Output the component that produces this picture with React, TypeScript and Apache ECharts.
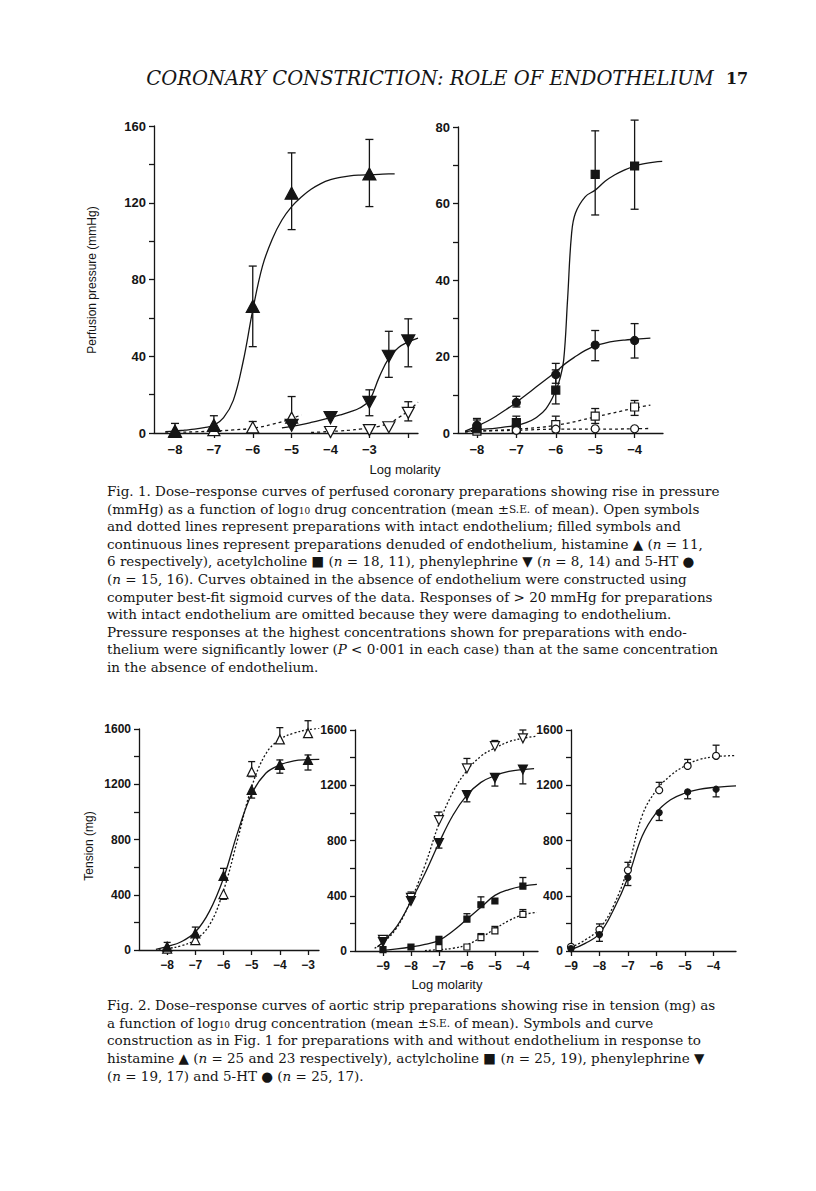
import React, { useEffect, useRef } from 'react';
import * as echarts from 'echarts';

// ---------- Fig. 1 left panel (histamine, phenylephrine; coronary pressure, mmHg)
const f1HistDenX = [-8, -7, -6, -5, -3];
const f1HistDenY = [1, 4, 66, 125, 135];
const f1HistDenLo = [1, 4, 45, 106, 118];
const f1HistDenHi = [5, 9, 87, 146, 153];
const f1HistIntX = [-8, -7, -6, -5];
const f1HistIntY = [0.5, 1.5, 3, 8];
const f1HistIntLo = [0.5, 1.5, 3, 8];
const f1HistIntHi = [0.5, 1.5, 6, 19];
const f1PhenDenX = [-5, -4, -3, -2.5, -2];
const f1PhenDenY = [4, 8, 16, 40, 48];
const f1PhenDenLo = [4, 8, 9, 29, 34.5];
const f1PhenDenHi = [4, 11, 22.5, 53, 59.5];
const f1PhenIntX = [-4, -3, -2.5, -2];
const f1PhenIntY = [0.5, 1.5, 3, 10.5];
const f1PhenIntLo = [0.5, 1.5, 3, 6.3];
const f1PhenIntHi = [2, 3, 4, 16.3];
const f1HistDenCurveX = [-8.25, -8, -7.75, -7.5, -7.25, -7, -6.75, -6.5, -6.25, -6, -5.75, -5.5, -5.25, -5, -4.75, -4.5, -4.25, -4, -3.75, -3.5, -3.25, -3, -2.75, -2.5, -2.35];
const f1HistDenCurveY = [0.7, 1, 1.5, 2, 2.8, 4, 8, 17, 37, 64, 87, 101, 111, 118, 123, 127, 130, 132, 133.2, 134, 134.4, 134.6, 134.8, 135, 135];
const f1HistIntCurveX = [-8.25, -8, -7.5, -7, -6.5, -6, -5.5, -5, -4.75];
const f1HistIntCurveY = [0, 0.3, 0.6, 1, 1.6, 2.5, 4.5, 7.5, 9.5];
const f1PhenDenCurveX = [-5.25, -5, -4.75, -4.5, -4.25, -4, -3.75, -3.5, -3.25, -3, -2.75, -2.5, -2.25, -2, -1.75];
const f1PhenDenCurveY = [2.7, 3.5, 4.4, 5.5, 6.7, 8, 9.4, 11, 13, 17, 29, 39, 44.5, 47.5, 49.5];
const f1PhenIntCurveX = [-4.5, -4.25, -4, -3.75, -3.5, -3.25, -3, -2.75, -2.5, -2.25, -2, -1.75];
const f1PhenIntCurveY = [0.3, 0.5, 0.8, 1.1, 1.5, 2, 2.5, 3.5, 5, 8, 11.5, 16];

// ---------- Fig. 1 right panel (acetylcholine, 5-HT)
const f1AchDenX = [-8, -7, -6, -5, -4];
const f1AchDenY = [1.1, 2.7, 11.2, 67.6, 69.8];
const f1AchDenLo = [1.1, 1.3, 7.6, 57, 58.5];
const f1AchDenHi = [3.4, 4.4, 16.5, 79, 81.8];
const f1HtDenX = [-8, -7, -6, -5, -4];
const f1HtDenY = [2, 8, 15.3, 23, 24.2];
const f1HtDenLo = [2, 6.8, 13, 18.9, 19.6];
const f1HtDenHi = [3.8, 9.6, 18.2, 26.8, 28.6];
const f1AchIntX = [-8, -7, -6, -5, -4];
const f1AchIntY = [0.5, 1, 2.2, 4.4, 6.8];
const f1AchIntLo = [0.5, 1, 2.2, 2.5, 4.6];
const f1AchIntHi = [0.5, 1, 4.4, 6.4, 8.5];
const f1HtIntX = [-7, -6, -5, -4];
const f1HtIntY = [0.7, 1, 1.1, 1.1];
const f1AchDenCurveX = [-8.3, -8, -7.5, -7, -6.75, -6.5, -6.25, -6, -5.9, -5.8, -5.7, -5.6, -5.5, -5.25, -5, -4.75, -4.5, -4.25, -4, -3.75, -3.5, -3.3];
const f1AchDenCurveY = [0.3, 0.8, 1.3, 2, 2.7, 4, 6.3, 11, 14, 19, 35, 52, 57.5, 61.8, 63.5, 65.8, 67.5, 68.8, 69.8, 70.4, 70.8, 71];
const f1HtDenCurveX = [-8.3, -8, -7.75, -7.5, -7.25, -7, -6.75, -6.5, -6.25, -6, -5.75, -5.5, -5.25, -5, -4.75, -4.5, -4.25, -4, -3.6];
const f1HtDenCurveY = [0.5, 1.8, 3, 4.5, 6.2, 8, 10, 12, 14, 16, 18.2, 20, 21.6, 22.8, 23.5, 24, 24.3, 24.5, 24.8];
const f1AchIntCurveX = [-8.3, -8, -7, -6, -5, -4, -3.6];
const f1AchIntCurveY = [0.3, 0.5, 1, 2, 4.2, 6.5, 7.3];
const f1HtIntCurveX = [-8.3, -8, -7, -6, -5, -4, -3.6];
const f1HtIntCurveY = [0.3, 0.5, 0.7, 1, 1, 1.1, 1.2];

// ---------- Fig. 2 left panel (histamine; aortic tension, mg)
const f2HistDenX = [-8, -7, -6, -5, -4, -3];
const f2HistDenY = [24, 121, 536, 1159, 1340, 1376];
const f2HistDenLo = [24, 121, 536, 1100, 1280, 1303];
const f2HistDenHi = [55, 166, 591, 1159, 1376, 1412];
const f2HistIntX = [-8, -7, -6, -5, -4, -3];
const f2HistIntY = [10, 72, 405, 1291, 1525, 1570];
const f2HistIntLo = [10, 43, 367, 1255, 1525, 1570];
const f2HistIntHi = [10, 109, 405, 1364, 1610, 1660];
const f2HistDenCurveX = [-8.4, -8, -7.5, -7, -6.5, -6, -5.5, -5, -4.5, -4, -3.5, -3, -2.6];
const f2HistDenCurveY = [5, 25, 60, 130, 280, 520, 850, 1130, 1280, 1340, 1370, 1378, 1380];
const f2HistIntCurveX = [-8.3, -8, -7.5, -7, -6.5, -6, -5.5, -5, -4.5, -4, -3.5, -3, -2.6];
const f2HistIntCurveY = [0, 10, 30, 75, 180, 430, 800, 1180, 1420, 1525, 1570, 1595, 1605];

// ---------- Fig. 2 middle panel (phenylephrine, acetylcholine)
const f2PhenDenX = [-9, -8, -7, -6, -5, -4];
const f2PhenDenY = [65, 362, 782, 1128, 1254, 1314];
const f2PhenDenLo = [65, 362, 745, 1080, 1194, 1210];
const f2PhenDenHi = [65, 362, 782, 1128, 1254, 1314];
const f2PhenIntX = [-9, -8, -7, -6, -5, -4];
const f2PhenIntY = [80, 385, 947, 1322, 1483, 1540];
const f2PhenIntLo = [80, 385, 947, 1322, 1483, 1540];
const f2PhenIntHi = [110, 427, 1006, 1394, 1524, 1600];
const f2AchDenX = [-9, -8, -7, -6, -5.5, -5, -4];
const f2AchDenY = [10, 29, 77, 231, 335, 362, 470];
const f2AchDenLo = [10, 29, 77, 231, 335, 362, 470];
const f2AchDenHi = [10, 29, 106, 270, 392, 362, 532];
const f2AchIntX = [-7, -6, -5.5, -5, -4];
const f2AchIntY = [25, 29, 97, 145, 265];
const f2AchIntLo = [25, 29, 97, 145, 265];
const f2AchIntHi = [25, 29, 126, 178, 300];
const f2PhenDenCurveX = [-9.2, -9, -8.5, -8, -7.5, -7, -6.5, -6, -5.5, -5, -4.5, -4, -3.6];
const f2PhenDenCurveY = [30, 65, 180, 360, 561, 782, 983, 1128, 1221, 1269, 1300, 1314, 1320];
const f2PhenIntCurveX = [-9.3, -9, -8.5, -8, -7.5, -7, -6.5, -6, -5.5, -5, -4.5, -4, -3.5];
const f2PhenIntCurveY = [20, 60, 170, 370, 620, 920, 1150, 1306, 1410, 1470, 1515, 1540, 1555];
const f2AchDenCurveX = [-9, -8.5, -8, -7.5, -7, -6.5, -6, -5.5, -5, -4.5, -4, -3.5];
const f2AchDenCurveY = [5, 15, 29, 48, 77, 145, 230, 316, 403, 445, 470, 483];
const f2AchIntCurveX = [-7.5, -7, -6.5, -6, -5.5, -5, -4.5, -4, -3.5];
const f2AchIntCurveY = [3, 10, 20, 45, 97, 160, 220, 262, 280];

// ---------- Fig. 2 right panel (5-HT)
const f2HtDenX = [-9, -8, -7, -5.9, -4.9, -3.9];
const f2HtDenY = [17, 119, 531, 1002, 1152, 1171];
const f2HtDenLo = [17, 70, 474, 945, 1102, 1116];
const f2HtDenHi = [17, 119, 531, 1002, 1152, 1171];
const f2HtIntX = [-9, -8, -7, -5.9, -4.9, -3.9];
const f2HtIntY = [30, 155, 584, 1164, 1340, 1413];
const f2HtIntLo = [30, 155, 584, 1164, 1340, 1413];
const f2HtIntHi = [30, 196, 642, 1221, 1387, 1490];
const f2HtDenCurveX = [-9, -8.5, -8, -7.5, -7, -6.5, -6, -5.5, -5, -4.5, -4, -3.5, -3.2];
const f2HtDenCurveY = [10, 55, 126, 300, 531, 830, 1002, 1095, 1142, 1170, 1184, 1192, 1195];
const f2HtIntCurveX = [-9, -8.5, -8, -7.5, -7, -6.5, -6, -5.5, -5, -4.5, -4, -3.5, -3.2];
const f2HtIntCurveY = [25, 80, 160, 330, 600, 980, 1164, 1270, 1340, 1385, 1405, 1413, 1415];

// ---------- tick labels
const fig1LeftTicks = [-8, -7, -6, -5, -4, -3, -2];
const fig1LeftLabels = [-8, -7, -6, -5, -4, -3];
const fig1RightTicks = [-8, -7, -6, -5, -4];
const fig2LeftTicks = [-8, -7, -6, -5, -4, -3];
const fig2MidTicks = [-9, -8, -7, -6, -5, -4];
const fig2RightTicks = [-9, -8, -7, -6, -5, -4];

// ---------- texts
const headerText = 'CORONARY CONSTRICTION: ROLE OF ENDOTHELIUM';
const pageNumber = '17';
const fig1YName = 'Perfusion pressure (mmHg)';
const fig2YName = 'Tension (mg)';
const xName = 'Log molarity';
const fig1Caption = [
  'Fig. 1. Dose–response curves of perfused coronary preparations showing rise in pressure',
  '(mmHg) as a function of log{sub|10} drug concentration (mean ±{sc|S.E.} of mean). Open symbols',
  'and dotted lines represent preparations with intact endothelium; filled symbols and',
  'continuous lines represent preparations denuded of endothelium, histamine ▲ ({i|n} = 11,',
  '6 respectively), acetylcholine ■ ({i|n} = 18, 11), phenylephrine ▼ ({i|n} = 8, 14) and 5-HT ●',
  '({i|n} = 15, 16). Curves obtained in the absence of endothelium were constructed using',
  'computer best-fit sigmoid curves of the data. Responses of > 20 mmHg for preparations',
  'with intact endothelium are omitted because they were damaging to endothelium.',
  'Pressure responses at the highest concentrations shown for preparations with endo-',
  'thelium were significantly lower ({i|P} < 0·001 in each case) than at the same concentration',
  'in the absence of endothelium.',
];
const fig2Caption = [
  'Fig. 2. Dose–response curves of aortic strip preparations showing rise in tension (mg) as',
  'a function of log{sub|10} drug concentration (mean ±{sc|S.E.} of mean). Symbols and curve',
  'construction as in Fig. 1 for preparations with and without endothelium in response to',
  'histamine ▲ ({i|n} = 25 and 23 respectively), actylcholine ■ ({i|n} = 25, 19), phenylephrine ▼',
  '({i|n} = 19, 17) and 5-HT ● ({i|n} = 25, 17).',
];

const INK = '#151515';
const SANS = 'Liberation Sans, Arial, sans-serif';
const SERIF = 'DejaVu Serif, serif';
const CAP_FS = 13.5;

const pts = (xs: number[], ys: number[]) => xs.map((x, i) => [x, ys[i]]);
const errPts = (xs: number[], ys: number[], lo: number[], hi: number[]) =>
  xs.map((x, i) => [x, ys[i], lo[i], hi[i]]);
const minus = (v: number) => (v < 0 ? '\u2212' + Math.abs(v) : String(v));

function curve(g: number, xs: number[], ys: number[], dashed: boolean, dash: number[]) {
  return {
    type: 'line',
    xAxisIndex: g,
    yAxisIndex: g,
    data: pts(xs, ys),
    smooth: 0.4,
    showSymbol: false,
    silent: true,
    z: 2,
    lineStyle: { color: INK, width: 1.3, type: dashed ? dash : 'solid' },
  };
}

function marks(g: number, xs: number[], ys: number[], symbol: string, size: any, filled: boolean, rotate = 0) {
  return {
    type: 'scatter',
    xAxisIndex: g,
    yAxisIndex: g,
    data: pts(xs, ys),
    symbol,
    symbolSize: size,
    symbolRotate: rotate,
    silent: true,
    z: 5,
    itemStyle: { color: filled ? INK : '#ffffff', borderColor: INK, borderWidth: 1.2, opacity: 1 },
  };
}

function errors(g: number, xs: number[], ys: number[], lo: number[], hi: number[], cap: number) {
  return {
    type: 'custom',
    xAxisIndex: g,
    yAxisIndex: g,
    data: errPts(xs, ys, lo, hi),
    encode: { x: 0, y: [1, 2, 3] },
    silent: true,
    z: 3,
    renderItem: (params: any, api: any) => {
      const x = api.value(0);
      const y = api.value(1);
      const lo = api.value(2);
      const hi = api.value(3);
      const pc = api.coord([x, y]);
      const pl = api.coord([x, lo]);
      const ph = api.coord([x, hi]);
      const st = { stroke: INK, lineWidth: 1.3 };
      const ch: any[] = [];
      if (hi > y) {
        ch.push({ type: 'line', shape: { x1: pc[0], y1: pc[1], x2: ph[0], y2: ph[1] }, style: st });
        ch.push({ type: 'line', shape: { x1: ph[0] - cap, y1: ph[1], x2: ph[0] + cap, y2: ph[1] }, style: st });
      }
      if (lo < y) {
        ch.push({ type: 'line', shape: { x1: pc[0], y1: pc[1], x2: pl[0], y2: pl[1] }, style: st });
        ch.push({ type: 'line', shape: { x1: pl[0] - cap, y1: pl[1], x2: pl[0] + cap, y2: pl[1] }, style: st });
      }
      return { type: 'group', children: ch };
    },
  };
}

function xAxisDef(g: number, min: number, max: number, ticks: number[], labels: number[], fs: number, margin: number) {
  return {
    gridIndex: g,
    type: 'value',
    min,
    max,
    axisLine: { show: true, onZero: false, lineStyle: { color: INK, width: 1.3 } },
    axisTick: { show: true, customValues: ticks, length: 5, lineStyle: { color: INK, width: 1.3 } },
    axisLabel: {
      customValues: labels,
      formatter: (v: number) => minus(v),
      color: INK,
      fontFamily: SANS,
      fontWeight: 'bold',
      fontSize: fs,
      margin,
    },
    splitLine: { show: false },
  };
}

function yAxisDef(g: number, max: number, interval: number, labelStep: number, fs: number) {
  return {
    gridIndex: g,
    type: 'value',
    min: 0,
    max,
    interval,
    axisLine: { show: true, lineStyle: { color: INK, width: 1.3 } },
    axisTick: { show: true, length: 5, lineStyle: { color: INK, width: 1.3 } },
    axisLabel: {
      formatter: (v: number) => (v % labelStep === 0 ? String(v) : ''),
      color: INK,
      fontFamily: SANS,
      fontWeight: 'bold',
      fontSize: fs,
      margin: 8,
    },
    splitLine: { show: false },
  };
}

const capRich = {
  sub: { fontFamily: SERIF, fontSize: 9, fill: INK, padding: [5, 0, 0, 0] },
  sc: { fontFamily: SERIF, fontSize: 10.5, fill: INK },
  i: { fontFamily: SERIF, fontSize: CAP_FS, fontStyle: 'italic', fill: INK },
};

function captionLines(lines: string[], x: number, y0: number, step: number) {
  return lines.map((t, i) => ({
    type: 'text',
    x,
    y: y0 + i * step,
    silent: true,
    style: {
      text: t,
      fontFamily: SERIF,
      fontSize: CAP_FS,
      fill: INK,
      align: 'left',
      verticalAlign: 'middle',
      rich: capRich,
    },
  }));
}

export default function App() {
  const ref = useRef<HTMLDivElement>(null);
  useEffect(() => {
    if (!ref.current) return;
    const chart = echarts.init(ref.current, undefined, { renderer: 'svg' });
    const D1 = [3, 3];
    const D2 = [2, 2];
    const option: any = {
      animation: false,
      backgroundColor: '#ffffff',
      grid: [
        { left: 154, top: 126, width: 264, height: 307 },
        { left: 458, top: 127, width: 205, height: 306 },
        { left: 139, top: 729, width: 180, height: 221 },
        { left: 355, top: 730, width: 183, height: 221 },
        { left: 571, top: 730, width: 165, height: 221 },
      ],
      xAxis: [
        xAxisDef(0, -8.54, -1.75, fig1LeftTicks, fig1LeftLabels, 13, 10),
        xAxisDef(1, -8.48, -3.28, fig1RightTicks, fig1RightTicks, 13, 10),
        xAxisDef(2, -9, -2.61, fig2LeftTicks, fig2LeftTicks, 12, 9),
        xAxisDef(3, -10, -3.46, fig2MidTicks, fig2MidTicks, 12, 9),
        xAxisDef(4, -9, -3.2, fig2RightTicks, fig2RightTicks, 12, 9),
      ],
      yAxis: [
        yAxisDef(0, 160, 20, 40, 13),
        yAxisDef(1, 80, 10, 20, 13),
        yAxisDef(2, 1600, 200, 400, 12),
        yAxisDef(3, 1600, 200, 400, 12),
        yAxisDef(4, 1600, 200, 400, 12),
      ],
      series: [
        // Fig 1 left
        curve(0, f1HistDenCurveX, f1HistDenCurveY, false, D1),
        curve(0, f1HistIntCurveX, f1HistIntCurveY, true, D1),
        curve(0, f1PhenDenCurveX, f1PhenDenCurveY, false, D1),
        curve(0, f1PhenIntCurveX, f1PhenIntCurveY, true, D1),
        errors(0, f1HistDenX, f1HistDenY, f1HistDenLo, f1HistDenHi, 4),
        errors(0, f1HistIntX, f1HistIntY, f1HistIntLo, f1HistIntHi, 4),
        errors(0, f1PhenDenX, f1PhenDenY, f1PhenDenLo, f1PhenDenHi, 4),
        errors(0, f1PhenIntX, f1PhenIntY, f1PhenIntLo, f1PhenIntHi, 4),
        marks(0, f1HistIntX, f1HistIntY, 'triangle', [12, 11], false),
        marks(0, f1PhenIntX, f1PhenIntY, 'triangle', [12, 11], false, 180),
        marks(0, f1HistDenX, f1HistDenY, 'triangle', [13, 12], true),
        marks(0, f1PhenDenX, f1PhenDenY, 'triangle', [13, 12], true, 180),
        // Fig 1 right
        curve(1, f1AchDenCurveX, f1AchDenCurveY, false, D1),
        curve(1, f1HtDenCurveX, f1HtDenCurveY, false, D1),
        curve(1, f1AchIntCurveX, f1AchIntCurveY, true, D1),
        curve(1, f1HtIntCurveX, f1HtIntCurveY, true, D1),
        errors(1, f1AchDenX, f1AchDenY, f1AchDenLo, f1AchDenHi, 4),
        errors(1, f1HtDenX, f1HtDenY, f1HtDenLo, f1HtDenHi, 4),
        errors(1, f1AchIntX, f1AchIntY, f1AchIntLo, f1AchIntHi, 4),
        marks(1, f1AchIntX, f1AchIntY, 'rect', 8, false),
        marks(1, f1HtIntX, f1HtIntY, 'circle', 8, false),
        marks(1, f1AchDenX, f1AchDenY, 'rect', 8, true),
        marks(1, f1HtDenX, f1HtDenY, 'circle', 8, true),
        // Fig 2 left
        curve(2, f2HistDenCurveX, f2HistDenCurveY, false, D2),
        curve(2, f2HistIntCurveX, f2HistIntCurveY, true, D2),
        errors(2, f2HistDenX, f2HistDenY, f2HistDenLo, f2HistDenHi, 3.5),
        errors(2, f2HistIntX, f2HistIntY, f2HistIntLo, f2HistIntHi, 3.5),
        marks(2, f2HistIntX, f2HistIntY, 'triangle', [9, 9], false),
        marks(2, f2HistDenX, f2HistDenY, 'triangle', [9, 9], true),
        // Fig 2 middle
        curve(3, f2PhenDenCurveX, f2PhenDenCurveY, false, D2),
        curve(3, f2PhenIntCurveX, f2PhenIntCurveY, true, D2),
        curve(3, f2AchDenCurveX, f2AchDenCurveY, false, D2),
        curve(3, f2AchIntCurveX, f2AchIntCurveY, true, D2),
        errors(3, f2PhenDenX, f2PhenDenY, f2PhenDenLo, f2PhenDenHi, 3.5),
        errors(3, f2PhenIntX, f2PhenIntY, f2PhenIntLo, f2PhenIntHi, 3.5),
        errors(3, f2AchDenX, f2AchDenY, f2AchDenLo, f2AchDenHi, 3.5),
        errors(3, f2AchIntX, f2AchIntY, f2AchIntLo, f2AchIntHi, 3.5),
        marks(3, f2PhenIntX, f2PhenIntY, 'triangle', [9, 9], false, 180),
        marks(3, f2AchIntX, f2AchIntY, 'rect', 6, false),
        marks(3, f2PhenDenX, f2PhenDenY, 'triangle', [9, 9], true, 180),
        marks(3, f2AchDenX, f2AchDenY, 'rect', 6, true),
        // Fig 2 right
        curve(4, f2HtDenCurveX, f2HtDenCurveY, false, D2),
        curve(4, f2HtIntCurveX, f2HtIntCurveY, true, D2),
        errors(4, f2HtDenX, f2HtDenY, f2HtDenLo, f2HtDenHi, 3.5),
        errors(4, f2HtIntX, f2HtIntY, f2HtIntLo, f2HtIntHi, 3.5),
        marks(4, f2HtIntX, f2HtIntY, 'circle', 7, false),
        marks(4, f2HtDenX, f2HtDenY, 'circle', 6, true),
      ],
      graphic: [
        {
          type: 'text', x: 430, y: 78, silent: true,
          style: { text: headerText, fontFamily: SERIF, fontStyle: 'italic', fontSize: 19.5, fill: INK, align: 'center', verticalAlign: 'middle' },
        },
        {
          type: 'text', x: 737, y: 78, silent: true,
          style: { text: pageNumber, fontFamily: SERIF, fontWeight: 'bold', fontSize: 16, fill: INK, align: 'center', verticalAlign: 'middle' },
        },
        {
          type: 'text', x: 92, y: 280, rotation: Math.PI / 2, silent: true,
          style: { text: fig1YName, fontFamily: SANS, fontSize: 12, fill: INK, align: 'center', verticalAlign: 'middle' },
        },
        {
          type: 'text', x: 405, y: 469, silent: true,
          style: { text: xName, fontFamily: SANS, fontSize: 13, fill: INK, align: 'center', verticalAlign: 'middle' },
        },
        {
          type: 'text', x: 89, y: 846, rotation: Math.PI / 2, silent: true,
          style: { text: fig2YName, fontFamily: SANS, fontSize: 12, fill: INK, align: 'center', verticalAlign: 'middle' },
        },
        {
          type: 'text', x: 447, y: 984, silent: true,
          style: { text: xName, fontFamily: SANS, fontSize: 13, fill: INK, align: 'center', verticalAlign: 'middle' },
        },
        ...captionLines(fig1Caption, 107, 491, 17.6),
        ...captionLines(fig2Caption, 107, 1005, 17.7),
      ],
    };
    chart.setOption(option);
    return () => chart.dispose();
  }, []);
  return (
    <div
      ref={ref}
      style={{ position: 'absolute', left: 0, top: 0, width: 816, height: 1191, background: '#fff' }}
    />
  );
}
